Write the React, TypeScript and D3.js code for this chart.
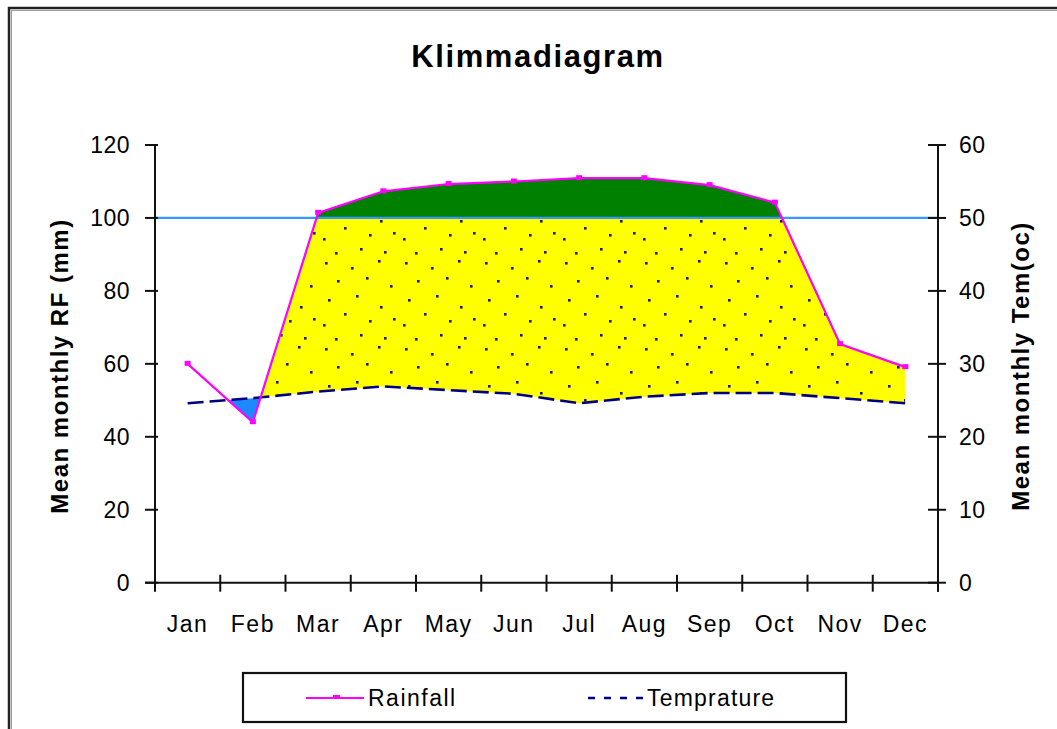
import React from 'react';
import * as d3 from 'd3';

const months = ['Jan', 'Feb', 'Mar', 'Apr', 'May', 'Jun', 'Jul', 'Aug', 'Sep', 'Oct', 'Nov', 'Dec'];
const rainfall = [60, 44, 101.4, 107.3, 109.3, 110, 110.9, 110.9, 109, 104.2, 65.4, 59.1];
const temperature = [24.6, 25.3, 26.2, 26.9, 26.4, 25.9, 24.6, 25.5, 26, 26, 25.3, 24.6];
const leftTicks = [0, 20, 40, 60, 80, 100, 120];
const rightTicks = [0, 10, 20, 30, 40, 50, 60];
const humidLimit = 100;

const dotTile: [number, number][] = [
  [5, 4], [31, 9], [58, 2], [17, 22], [46, 19], [70, 27], [8, 41], [36, 37], [60, 48],
  [24, 55], [49, 62], [3, 66], [73, 60], [40, 76], [15, 80], [64, 79],
];

const FONT = "'Liberation Sans', Arial, sans-serif";

export default function App() {
  const W = 1057;
  const H = 729;
  const plot = { left: 155, right: 938, top: 145, bottom: 582.7 };

  const x = d3.scaleBand<string>().domain(months).range([plot.left, plot.right]).padding(0);
  const cx = (i: number) => (x(months[i]) as number) + x.bandwidth() / 2;
  const yL = d3.scaleLinear().domain([0, 120]).range([plot.bottom, plot.top]);
  const yR = d3.scaleLinear().domain([0, 60]).range([plot.bottom, plot.top]);

  const rainPts: [number, number][] = rainfall.map((v, i) => [cx(i), yL(v)]);
  const tempPts: [number, number][] = temperature.map((v, i) => [cx(i), yR(v)]);
  const line = d3.line<[number, number]>();

  const underRain = line([
    ...rainPts,
    [cx(11), plot.bottom + 5],
    [cx(0), plot.bottom + 5],
  ]) + 'Z';
  const aboveRain = line([
    ...rainPts,
    [cx(11), plot.top - 20],
    [cx(0), plot.top - 20],
  ]) + 'Z';

  const idx = d3.range(months.length);
  const yellowArea = d3
    .area<number>()
    .x((i) => cx(i))
    .y0((i) => yR(temperature[i]))
    .y1(() => yL(humidLimit))(idx.slice(1));
  const greenArea = d3
    .area<number>()
    .x((i) => cx(i))
    .y0(() => yL(humidLimit))
    .y1(() => plot.top - 20)(idx);
  const blueArea = d3
    .area<number>()
    .x((i) => cx(i))
    .y0((i) => yR(temperature[i]))
    .y1(() => plot.bottom)(idx.slice(0, 3));

  const boundaries = d3.range(months.length + 1).map((i) => plot.left + i * x.bandwidth());

  const axisColor = '#111';

  return (
    <svg
      width={W}
      height={H}
      style={{ position: 'absolute', left: 0, top: 0, background: '#fff' }}
      fontFamily={FONT}
    >
      <defs>
        <pattern id="dots" patternUnits="userSpaceOnUse" width={80} height={86}>
          <rect width={80} height={86} fill="#ffff00" />
          {dotTile.map(([dx, dy], k) => (
            <rect key={k} x={dx} y={dy} width={2.6} height={2.6} fill="#1a1a6e" />
          ))}
        </pattern>
        <clipPath id="underRain">
          <path d={underRain} />
        </clipPath>
        <clipPath id="aboveRain">
          <path d={aboveRain} />
        </clipPath>
      </defs>

      {/* outer frame */}
      <rect x={9} y={8} width={1200} height={900} fill="#fff" stroke="#222" strokeWidth={2.5} />
      <rect x={11.5} y={10.5} width={1200} height={900} fill="none" stroke="#999" strokeWidth={1} />

      {/* title */}
      <text x={538} y={67} textAnchor="middle" fontSize={31} fontWeight="bold" letterSpacing={1.6} fill="#000">
        Klimmadiagram
      </text>

      {/* areas */}
      <path d={yellowArea || ''} fill="url(#dots)" clipPath="url(#underRain)" />
      <path d={greenArea || ''} fill="#008000" clipPath="url(#underRain)" />
      <path d={blueArea || ''} fill="#1e88ff" clipPath="url(#aboveRain)" />

      {/* humid limit line */}
      <line x1={plot.left} x2={plot.right} y1={yL(humidLimit)} y2={yL(humidLimit)} stroke="#3399ff" strokeWidth={2.2} />

      {/* temperature */}
      <path d={line(tempPts) || ''} fill="none" stroke="#000080" strokeWidth={2.6} strokeDasharray="16 6" />

      {/* rainfall */}
      <path d={line(rainPts) || ''} fill="none" stroke="#ff00ff" strokeWidth={2.2} />
      {rainPts.map(([px, py], i) => (
        <rect key={i} x={px - 3} y={py - 3} width={6} height={5} fill="#ff00ff" />
      ))}

      {/* left axis */}
      <line x1={plot.left} x2={plot.left} y1={plot.top} y2={plot.bottom} stroke={axisColor} strokeWidth={2} />
      {leftTicks.map((t) => (
        <g key={t}>
          <line x1={plot.left - 10} x2={plot.left + 3} y1={yL(t)} y2={yL(t)} stroke={axisColor} strokeWidth={2} />
          <text x={130} y={yL(t)} dy="0.36em" textAnchor="end" fontSize={23} letterSpacing={0.5} fill="#000">
            {t}
          </text>
        </g>
      ))}

      {/* right axis */}
      <line x1={plot.right} x2={plot.right} y1={plot.top} y2={plot.bottom + 9} stroke={axisColor} strokeWidth={2} />
      {rightTicks.map((t) => (
        <g key={t}>
          <line x1={plot.right - 10} x2={plot.right + 8} y1={yR(t)} y2={yR(t)} stroke={axisColor} strokeWidth={2} />
          <text x={959} y={yR(t)} dy="0.36em" textAnchor="start" fontSize={23} letterSpacing={0.5} fill="#000">
            {t}
          </text>
        </g>
      ))}

      {/* x axis */}
      <line x1={plot.left - 10} x2={plot.right} y1={plot.bottom} y2={plot.bottom} stroke={axisColor} strokeWidth={2} />
      {boundaries.map((bx, i) => (
        <line key={i} x1={bx} x2={bx} y1={plot.bottom - 8} y2={plot.bottom + 9} stroke={axisColor} strokeWidth={2} />
      ))}
      {months.map((m, i) => (
        <text key={m} x={cx(i)} y={632} textAnchor="middle" fontSize={23} letterSpacing={1.5} fill="#000">
          {m}
        </text>
      ))}

      {/* axis titles */}
      <text
        transform={`translate(68, 366) rotate(-90)`}
        textAnchor="middle"
        fontSize={24}
        fontWeight="bold"
        letterSpacing={1.5}
        fill="#000"
      >
        Mean monthly RF (mm)
      </text>
      <text
        transform={`translate(1029, 366) rotate(-90)`}
        textAnchor="middle"
        fontSize={24}
        fontWeight="bold"
        letterSpacing={1.5}
        fill="#000"
      >
        Mean monthly Tem(oc)
      </text>

      {/* legend */}
      <rect x={243} y={673} width={603} height={49} fill="#fff" stroke="#111" strokeWidth={2.2} />
      <line x1={306} x2={364} y1={698} y2={698} stroke="#ff00ff" strokeWidth={2} />
      <rect x={333} y={695} width={7} height={4} fill="#ff00ff" />
      <text x={368} y={698} dy="0.36em" fontSize={23} letterSpacing={1.5} fill="#000">
        Rainfall
      </text>
      <line x1={588} x2={645} y1={698} y2={698} stroke="#000080" strokeWidth={2.6} strokeDasharray="7 9" />
      <text x={647} y={698} dy="0.36em" fontSize={23} letterSpacing={1.2} fill="#000">
        Temprature
      </text>
    </svg>
  );
}
